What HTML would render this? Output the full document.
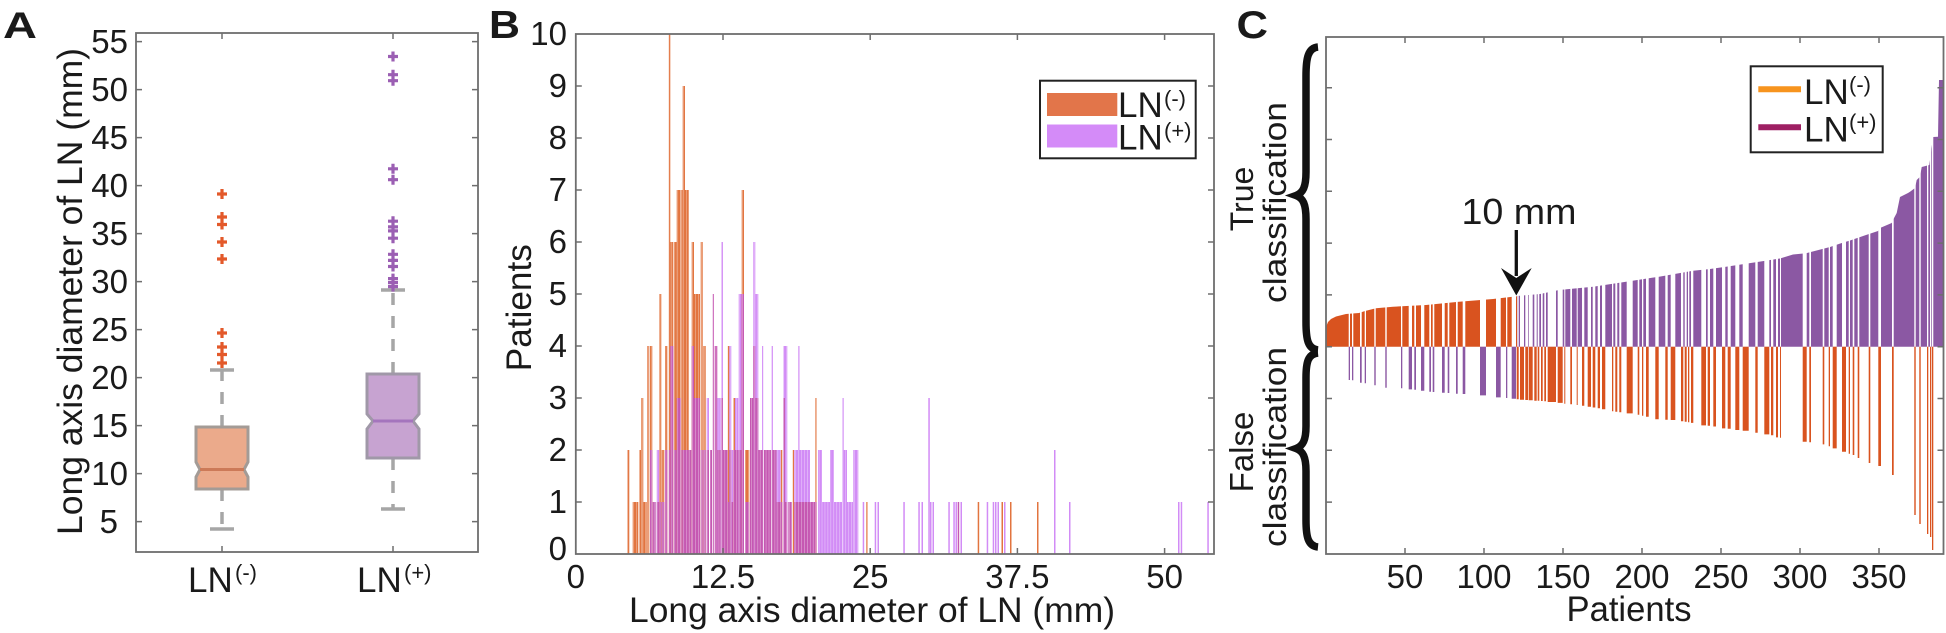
<!DOCTYPE html>
<html><head><meta charset="utf-8"><style>
html,body{margin:0;padding:0;background:#fff;}
svg{display:block;}
text{font-family:"Liberation Sans",Arial,sans-serif;fill:#1a1a1a;}
.ax{fill:none;stroke:#6e6e6e;stroke-width:1.8;}
.tk{stroke:#6e6e6e;stroke-width:1.5;fill:none;}
.o{fill:#e2743f;} .p{fill:#d28cf6;} .m{fill:#c558b2;}
.co{fill:#d9531f;} .cp{fill:#8b58a3;}
</style></head><body>
<svg width="1946" height="633" viewBox="0 0 1946 633" xmlns="http://www.w3.org/2000/svg">
<rect width="1946" height="633" fill="#fff"/>

<!-- PANEL A -->
<text x="3" y="38" font-size="37" font-weight="bold" textLength="34" lengthAdjust="spacingAndGlyphs">A</text>
<text transform="translate(82,291.5) rotate(-90)" text-anchor="middle" font-size="35" textLength="487" lengthAdjust="spacingAndGlyphs">Long axis diameter of LN (mm)</text>
<g font-size="33" text-anchor="end">
<text x="118" y="533">5</text>
<text x="128" y="485">10</text>
<text x="128" y="437">15</text>
<text x="128" y="389">20</text>
<text x="128" y="341">25</text>
<text x="128" y="293">30</text>
<text x="128" y="245">35</text>
<text x="128" y="197">40</text>
<text x="128" y="149">45</text>
<text x="128" y="101">50</text>
<text x="128" y="53">55</text>
</g>
<path class="tk" d="M136 521.6h6M136 473.6h6M136 425.6h6M136 377.6h6M136 329.6h6M136 281.6h6M136 233.6h6M136 185.6h6M136 137.6h6M136 89.6h6M136 41.6h6M478 521.6h-6M478 473.6h-6M478 425.6h-6M478 377.6h-6M478 329.6h-6M478 281.6h-6M478 233.6h-6M478 185.6h-6M478 137.6h-6M478 89.6h-6M478 41.6h-6M222 552v-6M393 552v-6M222 33v6M393 33v6"/>
<g stroke="#a6a6a6" stroke-width="3.5" fill="none">
<path d="M222 427V370M222 489V529M393 374V290M393 458V509" stroke-dasharray="12 11"/>
<path d="M210 370h24M210 529h24M381 290h24M381 509h24"/>
</g>
<polygon points="196,427 248,427 248,462 244,469.5 248,477 248,489 196,489 196,477 200,469.5 196,462" fill="#ebaa8b" stroke="#a39b96" stroke-width="3"/>
<line x1="200" y1="469.5" x2="244" y2="469.5" stroke="#cc7a58" stroke-width="3"/>
<polygon points="367,374 419,374 419,414 413,421 419,429 419,458 367,458 367,429 373,421 367,414" fill="#c7a3d1" stroke="#a098a8" stroke-width="3"/>
<line x1="373" y1="421" x2="413" y2="421" stroke="#a475bd" stroke-width="3"/>
<path stroke="#e3592a" stroke-width="3.2" fill="none" d="M217 194h10M222 189v10M217 217h10M222 212v10M217 224.5h10M222 219.5v10M217 242h10M222 237v10M217 259h10M222 254v10M217 333h10M222 328v10M217 347h10M222 342v10M217 354.5h10M222 349.5v10M217 363h10M222 358v10"/>
<path stroke="#9b5fb3" stroke-width="3.2" fill="none" d="M388 56.5h10M393 51.5v10M388 74.7h10M393 69.7v10M388 80.7h10M393 75.7v10M388 168.8h10M393 163.8v10M388 179.7h10M393 174.7v10M388 221.2h10M393 216.2v10M388 226.9h10M393 221.9v10M388 230.9h10M393 225.9v10M388 238.2h10M393 233.2v10M388 254.3h10M393 249.3v10M388 260.4h10M393 255.4v10M388 266.5h10M393 261.5v10M388 278.6h10M393 273.6v10M388 282.6h10M393 277.6v10M388 286.6h10M393 281.6v10"/>
<rect class="ax" x="136" y="33" width="342" height="519"/>
<text x="188" y="592" font-size="35">LN</text><text x="235" y="580" font-size="22">(-)</text>
<text x="357" y="592" font-size="35">LN</text><text x="404" y="580" font-size="22">(+)</text>

<!-- PANEL B -->
<text x="489" y="38" font-size="39" font-weight="bold" textLength="31" lengthAdjust="spacingAndGlyphs">B</text>
<text transform="translate(531,307.7) rotate(-90)" text-anchor="middle" font-size="35" textLength="127" lengthAdjust="spacingAndGlyphs">Patients</text>
<g font-size="33" text-anchor="end">
<text x="567" y="560">0</text>
<text x="567" y="513">1</text>
<text x="567" y="461">2</text>
<text x="567" y="409">3</text>
<text x="567" y="357">4</text>
<text x="567" y="305">5</text>
<text x="567" y="253">6</text>
<text x="567" y="201">7</text>
<text x="567" y="149">8</text>
<text x="567" y="97">9</text>
<text x="567" y="45">10</text>
</g>
<g font-size="33" text-anchor="middle">
<text x="575.8" y="588">0</text>
<text x="723" y="588">12.5</text>
<text x="870.2" y="588">25</text>
<text x="1017.4" y="588">37.5</text>
<text x="1164.6" y="588">50</text>
</g>
<text x="872" y="622" text-anchor="middle" font-size="35" textLength="486" lengthAdjust="spacingAndGlyphs">Long axis diameter of LN (mm)</text>
<g>
<rect class="o" x="627.3" y="450" width="2" height="104"/>
<rect class="o" x="632.7" y="502" width="5.6" height="52"/>
<rect class="o" x="639.3" y="450" width="1.7" height="104"/>
<rect class="o" x="641.3" y="398" width="2" height="156"/>
<rect class="o" x="643.3" y="502" width="3.4" height="52"/>
<rect class="o" x="647.3" y="346" width="2" height="208"/>
<rect class="o" x="650" y="346" width="2.3" height="208"/><rect class="m" x="650" y="450" width="2.3" height="104"/>
<rect class="m" x="652.7" y="502" width="3" height="52"/>
<rect class="p" x="656.7" y="450" width="2.6" height="104"/><rect class="m" x="656.7" y="502" width="2.6" height="52"/>
<rect class="o" x="659.3" y="294" width="2" height="260"/><rect class="m" x="659.3" y="502" width="2" height="52"/>
<rect class="o" x="661.7" y="450" width="2.6" height="104"/><rect class="m" x="661.7" y="502" width="2.6" height="52"/>
<rect class="o" x="665" y="346" width="2.3" height="208"/><rect class="m" x="665" y="450" width="2.3" height="104"/>
<rect class="o" x="668.7" y="34" width="1.6" height="520"/><rect class="m" x="668.7" y="450" width="1.6" height="104"/>
<rect class="o" x="670.3" y="242" width="3" height="312"/><rect class="m" x="670.3" y="346" width="3" height="208"/>
<rect class="o" x="674" y="242" width="2.7" height="312"/><rect class="m" x="674" y="450" width="2.7" height="104"/>
<rect class="o" x="676.7" y="190" width="4" height="364"/><rect class="m" x="676.7" y="398" width="4" height="156"/>
<rect class="o" x="681.3" y="190" width="1.4" height="364"/><rect class="m" x="681.3" y="450" width="1.4" height="104"/>
<rect class="o" x="682.7" y="86" width="2.3" height="468"/><rect class="m" x="682.7" y="450" width="2.3" height="104"/>
<rect class="o" x="685" y="190" width="3.7" height="364"/><rect class="m" x="685" y="450" width="3.7" height="104"/>
<rect class="m" x="688.7" y="450" width="2.6" height="104"/>
<rect class="o" x="691.7" y="242" width="2.3" height="312"/><rect class="m" x="691.7" y="346" width="2.3" height="208"/>
<rect class="o" x="694" y="294" width="6" height="260"/><rect class="m" x="694" y="398" width="6" height="156"/>
<rect class="o" x="700.7" y="242" width="2" height="312"/><rect class="m" x="700.7" y="450" width="2" height="104"/>
<rect class="o" x="703.3" y="346" width="2.4" height="208"/><rect class="m" x="703.3" y="450" width="2.4" height="104"/>
<rect class="p" x="706.7" y="398" width="2.3" height="156"/><rect class="m" x="706.7" y="450" width="2.3" height="104"/>
<rect class="m" x="710" y="450" width="2" height="104"/>
<rect class="m" x="712.7" y="294" width="1.3" height="260"/>
<rect class="m" x="714.7" y="346" width="2.6" height="208"/>
<rect class="p" x="717.3" y="398" width="3.4" height="156"/><rect class="m" x="717.3" y="450" width="3.4" height="104"/>
<rect class="p" x="721.3" y="242" width="1.7" height="312"/><rect class="m" x="721.3" y="398" width="1.7" height="156"/>
<rect class="m" x="723" y="450" width="4.7" height="104"/>
<rect class="o" x="727.7" y="346" width="1.6" height="208"/><rect class="m" x="727.7" y="502" width="1.6" height="52"/>
<rect class="p" x="729.3" y="346" width="2" height="208"/><rect class="m" x="729.3" y="450" width="2" height="104"/>
<rect class="p" x="731.7" y="450" width="1.6" height="104"/><rect class="m" x="731.7" y="502" width="1.6" height="52"/>
<rect class="o" x="733.3" y="398" width="1.7" height="156"/><rect class="m" x="733.3" y="450" width="1.7" height="104"/>
<rect class="p" x="735" y="398" width="3.3" height="156"/><rect class="m" x="735" y="450" width="3.3" height="104"/>
<rect class="p" x="738.7" y="294" width="3" height="260"/><rect class="m" x="738.7" y="450" width="3" height="104"/>
<rect class="o" x="741.7" y="190" width="2.3" height="364"/><rect class="m" x="741.7" y="294" width="2.3" height="260"/>
<rect class="o" x="745" y="450" width="4.3" height="104"/><rect class="m" x="745" y="502" width="4.3" height="52"/>
<rect class="m" x="750" y="398" width="3.3" height="156"/>
<rect class="p" x="753.3" y="242" width="2" height="312"/><rect class="m" x="753.3" y="346" width="2" height="208"/>
<rect class="p" x="755.3" y="294" width="3" height="260"/><rect class="m" x="755.3" y="398" width="3" height="156"/>
<rect class="m" x="758.3" y="450" width="3.7" height="104"/>
<rect class="p" x="762" y="346" width="1.3" height="208"/><rect class="m" x="762" y="450" width="1.3" height="104"/>
<rect class="m" x="764" y="450" width="7" height="104"/>
<rect class="p" x="771.5" y="346" width="1.5" height="208"/><rect class="m" x="771.5" y="450" width="1.5" height="104"/>
<rect class="m" x="773" y="450" width="3.7" height="104"/>
<rect class="p" x="776.7" y="450" width="4" height="104"/><rect class="m" x="776.7" y="502" width="4" height="52"/>
<rect class="o" x="780.7" y="450" width="1.6" height="104"/><rect class="m" x="780.7" y="502" width="1.6" height="52"/>
<rect class="p" x="783.3" y="346" width="1.7" height="208"/><rect class="m" x="783.3" y="398" width="1.7" height="156"/>
<rect class="p" x="785" y="346" width="2.3" height="208"/><rect class="m" x="785" y="502" width="2.3" height="52"/>
<rect class="m" x="788.3" y="502" width="3.4" height="52"/>
<rect class="o" x="792.7" y="450" width="1.3" height="104"/>
<rect class="p" x="794.3" y="450" width="3.7" height="104"/><rect class="m" x="794.3" y="502" width="3.7" height="52"/>
<rect class="p" x="798" y="346" width="1.5" height="208"/><rect class="m" x="798" y="502" width="1.5" height="52"/>
<rect class="p" x="799.5" y="450" width="10.5" height="104"/><rect class="m" x="799.5" y="502" width="10.5" height="52"/>
<rect class="m" x="810" y="502" width="5" height="52"/>
<rect class="o" x="815.3" y="398" width="1.4" height="156"/><rect class="m" x="815.3" y="502" width="1.4" height="52"/>
<rect class="p" x="818" y="450" width="4" height="104"/>
<rect class="p" x="822" y="502" width="8" height="52"/>
<rect class="p" x="830" y="450" width="4" height="104"/>
<rect class="p" x="834" y="502" width="8" height="52"/>
<rect class="p" x="842.3" y="398" width="1.4" height="156"/>
<rect class="p" x="843.7" y="450" width="3.3" height="104"/>
<rect class="p" x="847" y="502" width="6" height="52"/>
<rect class="p" x="853.3" y="450" width="5" height="104"/>
<rect class="p" x="862.7" y="502" width="1.5" height="52"/>
<rect class="o" x="866.3" y="502" width="1.2" height="52"/>
<rect class="p" x="874.7" y="502" width="1.5" height="52"/>
<rect class="p" x="877.5" y="502" width="1.5" height="52"/>
<rect class="p" x="903.3" y="502" width="1.5" height="52"/>
<rect class="p" x="918.3" y="502" width="1.5" height="52"/>
<rect class="p" x="921.5" y="502" width="1.5" height="52"/>
<rect class="p" x="928.3" y="398" width="1.5" height="156"/>
<rect class="p" x="930" y="502" width="1.5" height="52"/>
<rect class="p" x="932.5" y="502" width="1.5" height="52"/>
<rect class="p" x="948.3" y="502" width="1.5" height="52"/>
<rect class="p" x="953.3" y="502" width="1.5" height="52"/>
<rect class="p" x="955.5" y="502" width="1.5" height="52"/>
<rect class="m" x="957.7" y="502" width="1.5" height="52"/>
<rect class="p" x="960.5" y="502" width="1.5" height="52"/>
<rect class="o" x="977.7" y="502" width="1.5" height="52"/>
<rect class="p" x="986.7" y="502" width="1.5" height="52"/>
<rect class="p" x="992.7" y="502" width="1.5" height="52"/>
<rect class="p" x="995" y="502" width="1.5" height="52"/>
<rect class="p" x="997.5" y="502" width="1.5" height="52"/>
<rect class="o" x="1001.5" y="502" width="1.5" height="52"/>
<rect class="p" x="1004" y="502" width="1.5" height="52"/>
<rect class="o" x="1010" y="502" width="1.5" height="52"/>
<rect class="o" x="1037" y="502" width="1.5" height="52"/>
<rect class="p" x="1054" y="450" width="1.5" height="104"/>
<rect class="p" x="1069" y="502" width="1.5" height="52"/>
<rect class="p" x="1178" y="502" width="1.5" height="52"/>
<rect class="p" x="1180.7" y="502" width="1.5" height="52"/>
<rect class="p" x="1207.3" y="502" width="1.5" height="52"/>
</g>
<defs>
<pattern id="sep" patternUnits="userSpaceOnUse" x="577.3" y="0" width="2.945" height="10">
<rect x="0" y="0" width="0.55" height="10" fill="#fff"/>
</pattern>
</defs>
<rect x="620" y="34" width="240" height="520" fill="url(#sep)" opacity="0.55"/>
<path class="tk" d="M575.8 502h6M575.8 450h6M575.8 398h6M575.8 346h6M575.8 294h6M575.8 242h6M575.8 190h6M575.8 138h6M575.8 86h6M1214 502h-6M1214 450h-6M1214 398h-6M1214 346h-6M1214 294h-6M1214 242h-6M1214 190h-6M1214 138h-6M1214 86h-6M723 554v-6M870.2 554v-6M1017.4 554v-6M1164.6 554v-6M723 34v6M870.2 34v6M1017.4 34v6M1164.6 34v6"/>
<rect class="ax" x="575.8" y="34" width="638.2" height="520"/>
<rect x="1040" y="80.7" width="155.7" height="77.6" fill="#fff" stroke="#222" stroke-width="2"/>
<rect x="1047" y="93" width="70.3" height="23" fill="#e2754a"/>
<rect x="1047" y="124.5" width="70.3" height="23" fill="#d48bf8"/>
<text x="1118" y="117" font-size="35">LN</text><text x="1164" y="106" font-size="22">(-)</text>
<text x="1118" y="149.4" font-size="35">LN</text><text x="1164" y="138" font-size="22">(+)</text>

<!-- PANEL C -->
<text x="1236.5" y="38" font-size="39" font-weight="bold" textLength="31.5" lengthAdjust="spacingAndGlyphs">C</text>
<text transform="translate(1253,199) rotate(-90)" text-anchor="middle" font-size="32">True</text>
<text transform="translate(1286,202.5) rotate(-90)" text-anchor="middle" font-size="32" textLength="201" lengthAdjust="spacingAndGlyphs">classification</text>
<text transform="translate(1253,452) rotate(-90)" text-anchor="middle" font-size="33">False</text>
<text transform="translate(1286,447) rotate(-90)" text-anchor="middle" font-size="32" textLength="200" lengthAdjust="spacingAndGlyphs">classification</text>
<g fill="none" stroke="#111" stroke-width="7.5">
<path d="M1318 47 C1308 48,1306 58,1306 76 L1306 172 C1306 187,1303 193,1296 195.5 C1303 198,1306 204,1306 219 L1306 322 C1306 340,1308 349,1318 350"/>
<path d="M1318 353 C1308 354,1306 362,1306 378 L1306 426 C1306 440,1303 446,1296 448.5 C1303 451,1306 457,1306 471 L1306 520 C1306 537,1308 546,1318 547"/>
</g>
<polygon class="co" points="1326,346.7 1326,327 1328,322 1331,319 1336,316.5 1346,314 1359,313 1365,311 1376,308.3 1393,306.7 1426,305 1459,301.7 1493,299 1517,296.3 1517,346.7"/>
<polygon class="cp" points="1517,346.7 1517,296 1540,294 1559,290 1593,286.7 1626,281.7 1659,276.7 1693,270.7 1710,269 1726,266.7 1759,261.7 1780,258.5 1793,254.5 1806,253.3 1830,247 1841,243.3 1850,240.5 1866,235 1878,231 1880,228 1891.7,223 1893,220 1896.7,213 1900,197 1908,193 1910,191.7 1915,188 1916.7,180 1920,176.7 1921.7,167 1929.3,165 1930,160 1933,137 1938,136.7 1939,80 1943,80 1943.5,70 1943.5,346.7"/>
<!-- white gaps in top region -->
<path fill="#fff" d="M1348.7 60h1.3v286.7h-1.3zM1352 60h1.3v286.7h-1.3zM1360 60h1.7v286.7h-1.7zM1364.7 60h1.3v286.7h-1.3zM1374.3 60h1.4v286.7h-1.4zM1385.3 60h1.4v286.7h-1.4zM1401 60h1.3v286.7h-1.3zM1408.7 60h3.3v286.7h-3.3zM1414.3 60h1.7v286.7h-1.7zM1421 60h3.3v286.7h-3.3zM1429.3 60h1.7v286.7h-1.7zM1432.7 60h1.6v286.7h-1.6zM1442 60h2.7v286.7h-2.7zM1447.7 60h1.6v286.7h-1.6zM1456 60h1.7v286.7h-1.7zM1462.7 60h2.6v286.7h-2.6zM1480 60h6v286.7h-6zM1496 60h4.7v286.7h-4.7zM1506 60h1.3v286.7h-1.3zM1511.7 60h4.3v286.7h-4.3z"/>
<path fill="#fff" d="M1517.3 60h1.4v286.7h-1.4zM1520 60h4v286.7h-4zM1525.3 60h2.7v286.7h-2.7zM1528.7 60h4v286.7h-4zM1534.3 60h2.4v286.7h-2.4zM1537.7 60h1.6v286.7h-1.6zM1541 60h1.7v286.7h-1.7zM1544.3 60h1.7v286.7h-1.7zM1547.7 60h8.3v286.7h-8.3zM1557.7 60h5v286.7h-5zM1564.3 60h1v286.7h-1zM1570.3 60h1.7v286.7h-1.7zM1576.7 60h1v286.7h-1zM1582 60h2.3v286.7h-2.3zM1587.7 60h3.3v286.7h-3.3zM1592.7 60h2.6v286.7h-2.6zM1597.7 60h2.3v286.7h-2.3zM1602 60h3.3v286.7h-3.3zM1612 60h1.3v286.7h-1.3zM1615.3 60h2v286.7h-2zM1619.3 60h2v286.7h-2zM1626.7 60h6v286.7h-6zM1637.7 60h1.6v286.7h-1.6zM1642 60h1.3v286.7h-1.3zM1646 60h2.7v286.7h-2.7zM1655.3 60h3.4v286.7h-3.4zM1665.3 60h2.4v286.7h-2.4zM1670.7 60h4.6v286.7h-4.6zM1681 60h2.3v286.7h-2.3zM1684.7 60h2v286.7h-2zM1688 60h1.3v286.7h-1.3zM1691 60h2.3v286.7h-2.3zM1701.3 60h4.7v286.7h-4.7zM1707.7 60h2.3v286.7h-2.3zM1713.3 60h2.7v286.7h-2.7zM1722 60h3.3v286.7h-3.3zM1727.7 60h3v286.7h-3zM1735.3 60h4v286.7h-4zM1742.7 60h6v286.7h-6zM1755.3 60h2.4v286.7h-2.4zM1764.3 60h5v286.7h-5zM1771 60h2.3v286.7h-2.3zM1776 60h2v286.7h-2zM1780 60h1v286.7h-1zM1802.7 60h4v286.7h-4zM1809.3 60h1.7v286.7h-1.7zM1822.7 60h1.6v286.7h-1.6zM1828.7 60h1.3v286.7h-1.3zM1832.7 60h4v286.7h-4zM1842 60h4v286.7h-4zM1848.7 60h1.3v286.7h-1.3zM1852.7 60h1.6v286.7h-1.6zM1857.7 60h1.6v286.7h-1.6zM1868.7 60h1.6v286.7h-1.6zM1878.3 60h2.7v286.7h-2.7zM1892 60h1.7v286.7h-1.7zM1914.3 60h1.4v286.7h-1.4zM1919.3 60h1.4v286.7h-1.4zM1927 60h1.3v286.7h-1.3zM1930 60h1.3v286.7h-1.3zM1932 60h1.3v286.7h-1.3z"/>
<!-- bottom bars: purple (false negatives) -->
<path class="cp" d="M1348.7 346.7h1.3v33.3h-1.3zM1352 346.7h1.3v33.5h-1.3zM1360 346.7h1.7v36h-1.7zM1364.7 346.7h1.3v36.5h-1.3zM1374.3 346.7h1.4v38.6h-1.4zM1385.3 346.7h1.4v41h-1.4zM1401 346.7h1.3v41.6h-1.3zM1408.7 346.7h3.3v42.7h-3.3zM1414.3 346.7h1.7v43h-1.7zM1421 346.7h3.3v44h-3.3zM1429.3 346.7h1.7v45h-1.7zM1432.7 346.7h1.6v45.3h-1.6zM1442 346.7h2.7v46h-2.7zM1447.7 346.7h1.6v46.3h-1.6zM1456 346.7h1.7v47h-1.7zM1462.7 346.7h2.6v47.3h-2.6zM1480 346.7h6v48.7h-6zM1496 346.7h4.7v50.7h-4.7zM1506 346.7h1.3v51.3h-1.3zM1511.7 346.7h4.3v52h-4.3z"/>
<!-- bottom bars: orange (false positives) -->
<path class="co" d="M1516.7 346.7h2v52.6h-2zM1520 346.7h4v53h-4zM1525.3 346.7h2.7v53.3h-2.7zM1528.7 346.7h4v53.6h-4zM1534.3 346.7h2.4v54h-2.4zM1537.7 346.7h1.6v54h-1.6zM1541 346.7h1.7v54.3h-1.7zM1544.3 346.7h1.7v54.5h-1.7zM1547.7 346.7h8.3v55.3h-8.3zM1557.7 346.7h5v56.2h-5zM1564.3 346.7h1v57h-1zM1570.3 346.7h1.7v57.6h-1.7zM1576.7 346.7h1v58.3h-1zM1582 346.7h2.3v59h-2.3zM1587.7 346.7h3.3v60h-3.3zM1592.7 346.7h2.6v60.8h-2.6zM1597.7 346.7h2.3v61.5h-2.3zM1602 346.7h3.3v62.6h-3.3zM1612 346.7h1.3v64.5h-1.3zM1615.3 346.7h2v65h-2zM1619.3 346.7h2v65.5h-2zM1626.7 346.7h6v66.7h-6zM1637.7 346.7h1.6v68h-1.6zM1642 346.7h1.3v69h-1.3zM1646 346.7h2.7v70h-2.7zM1655.3 346.7h3.4v72.6h-3.4zM1665.3 346.7h2.4v73h-2.4zM1670.7 346.7h4.6v73.3h-4.6zM1681 346.7h2.3v74.5h-2.3zM1684.7 346.7h2v75h-2zM1688 346.7h1.3v75.5h-1.3zM1691 346.7h2.3v76.2h-2.3zM1701.3 346.7h4.7v78.7h-4.7zM1707.7 346.7h2.3v79h-2.3zM1713.3 346.7h2.7v79.8h-2.7zM1722 346.7h3.3v81.7h-3.3zM1727.7 346.7h3v82h-3zM1735.3 346.7h4v83.3h-4zM1742.7 346.7h6v84h-6zM1755.3 346.7h2.4v86h-2.4zM1764.3 346.7h5v87.7h-5zM1771 346.7h2.3v88.5h-2.3zM1776 346.7h2v90.7h-2zM1780 346.7h1v91h-1zM1802.7 346.7h4v95h-4zM1809.3 346.7h1.7v95.5h-1.7zM1822.7 346.7h1.6v97.7h-1.6zM1828.7 346.7h1.3v99.5h-1.3zM1832.7 346.7h4v101.7h-4zM1842 346.7h4v105h-4zM1848.7 346.7h1.3v107h-1.3zM1852.7 346.7h1.6v108.3h-1.6zM1857.7 346.7h1.6v111.3h-1.6zM1868.7 346.7h1.6v116.3h-1.6zM1878.3 346.7h2.7v119.3h-2.7zM1892 346.7h1.7v128.3h-1.7zM1914.3 346.7h1.4v168.3h-1.4zM1919.3 346.7h1.4v177.3h-1.4zM1927 346.7h1.3v187.3h-1.3zM1930 346.7h1.3v190.3h-1.3zM1932 346.7h1.3v203.3h-1.3z"/>
<text x="1519" y="224" text-anchor="middle" font-size="36" textLength="115" lengthAdjust="spacingAndGlyphs">10 mm</text>
<line x1="1516.3" y1="230" x2="1516.3" y2="276" stroke="#111" stroke-width="3.3"/>
<polygon points="1501,268 1516.3,278 1531.7,268 1516.3,295.5" fill="#111"/>
<path class="tk" d="M1326 87.7h6M1326 139.5h6M1326 191.3h6M1326 243.1h6M1326 294.9h6M1326 346.7h6M1326 398.5h6M1326 450.3h6M1326 502.1h6M1943.5 87.7h-6M1943.5 139.5h-6M1943.5 191.3h-6M1943.5 243.1h-6M1943.5 294.9h-6M1943.5 346.7h-6M1943.5 398.5h-6M1943.5 450.3h-6M1943.5 502.1h-6M1405 554v-6M1484 554v-6M1563 554v-6M1642 554v-6M1721 554v-6M1800 554v-6M1879 554v-6M1405 37v6M1484 37v6M1563 37v6M1642 37v6M1721 37v6M1800 37v6M1879 37v6"/>
<rect class="ax" x="1326" y="37" width="617.5" height="517"/>
<g font-size="33" text-anchor="middle">
<text x="1405" y="588">50</text>
<text x="1484" y="588">100</text>
<text x="1563" y="588">150</text>
<text x="1642" y="588">200</text>
<text x="1721" y="588">250</text>
<text x="1800" y="588">300</text>
<text x="1879" y="588">350</text>
</g>
<text x="1629" y="621" text-anchor="middle" font-size="35" textLength="125" lengthAdjust="spacingAndGlyphs">Patients</text>
<rect x="1750.7" y="66.3" width="132" height="86" fill="#fff" stroke="#222" stroke-width="2"/>
<line x1="1758.3" y1="89.3" x2="1801" y2="89.3" stroke="#f7941e" stroke-width="6"/>
<line x1="1758.3" y1="127.3" x2="1801" y2="127.3" stroke="#9e1f63" stroke-width="6"/>
<text x="1804" y="104" font-size="35">LN</text><text x="1849" y="92" font-size="22">(-)</text>
<text x="1804" y="141.5" font-size="35">LN</text><text x="1849" y="129.5" font-size="22">(+)</text>
</svg>
</body></html>
